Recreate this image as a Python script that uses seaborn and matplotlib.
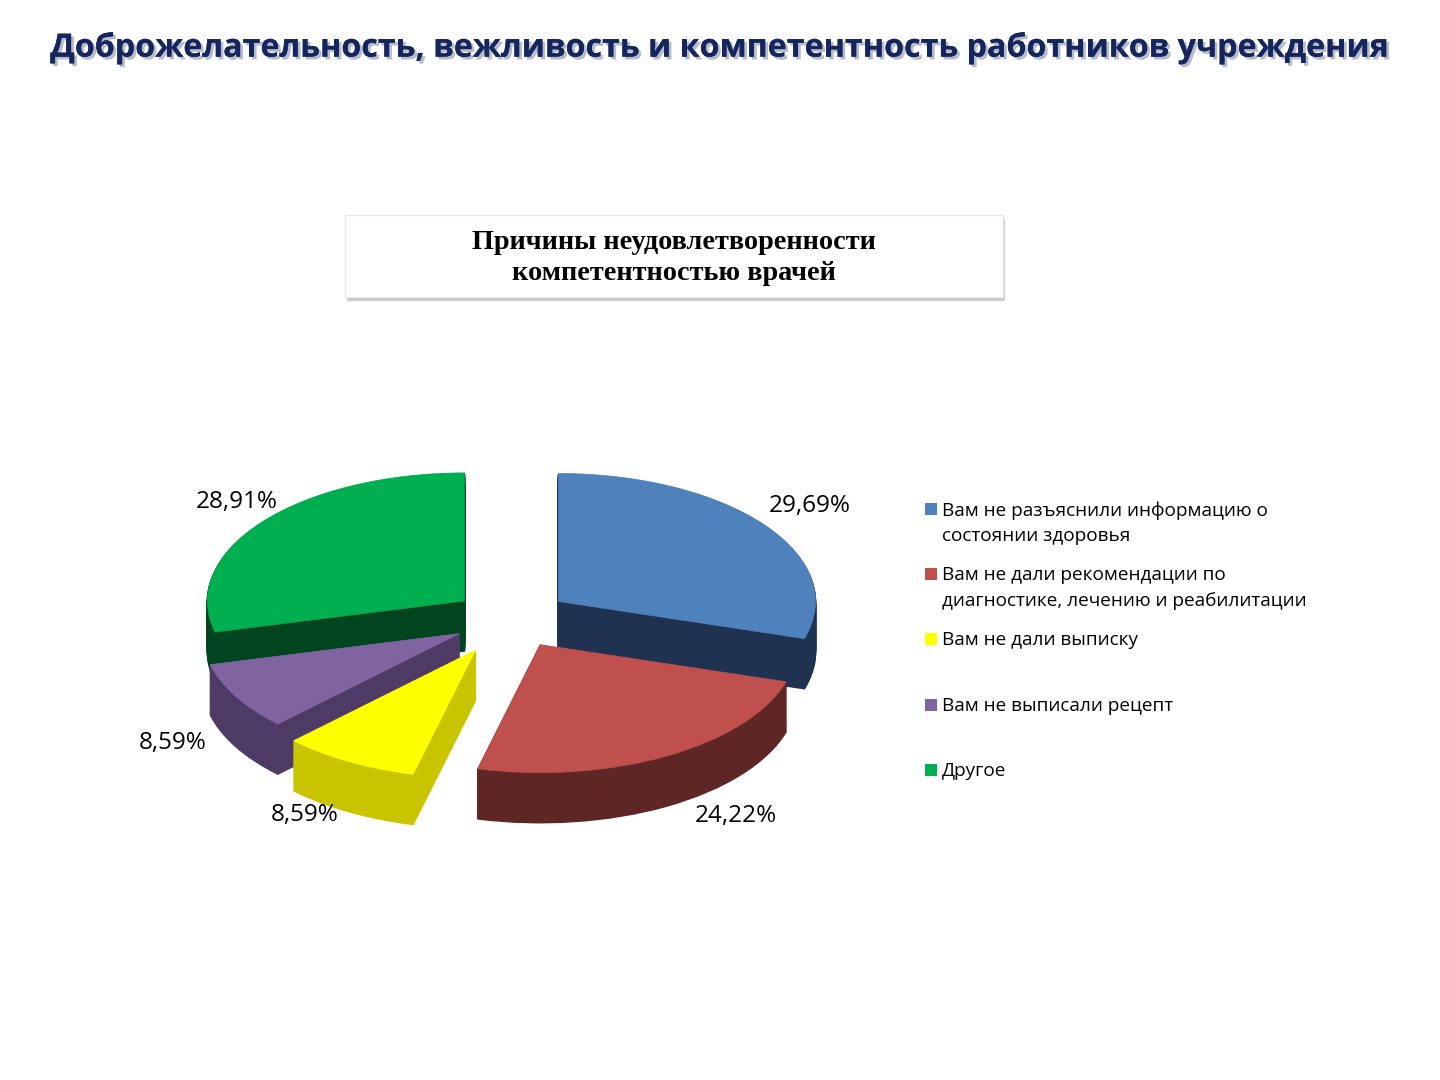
import numpy as np
import matplotlib
matplotlib.use("Agg")
import matplotlib.pyplot as plt
import matplotlib.patheffects as pe
from matplotlib.patches import Rectangle
import seaborn as sns

# data
title = "Доброжелательность, вежливость и компетентность работников учреждения"
subtitle = "Причины неудовлетворенности\nкомпетентностью врачей"
categories = [
    "Вам не разъяснили информацию о\nсостоянии здоровья",
    "Вам не дали рекомендации по\nдиагностике, лечению и реабилитации",
    "Вам не дали выписку",
    "Вам не выписали рецепт",
    "Другое",
]
shares = [29.69, 24.22, 8.59, 8.59, 28.91]
pct_labels = ["29,69%", "24,22%", "8,59%", "8,59%", "28,91%"]

top_colors = ["#4F81BD", "#C0504D", "#FFFF00", "#8064A2", "#00B050"]
side_colors = ["#1F3350", "#5E2624", "#C9C400", "#4D3B66", "#00451F"]
explode = [0.23, 0.23, 0.28, 0.23, 0.23]

W, H = 1440, 1080
CX, CY = 511, 619      # pie centre, px from top-left
RX, RY = 257, 128      # ellipse radii in px
DEPTH_PX = 50


def fx(x):
    return x / W


def fy(y):
    return 1 - y / H


def main():
    sns.set_theme(style="white")
    plt.rcParams["font.family"] = ["Open Sans", "DejaVu Sans"]

    fig = plt.figure(figsize=(14.4, 10.8), dpi=100)
    fig.patch.set_facecolor("white")

    ax = fig.add_axes([0, 0, 1, 1])
    depth = DEPTH_PX / RY
    n_layers = 40

    # side walls: stacked darker pies
    for k in range(n_layers, 0, -1):
        wedges, _ = ax.pie(shares, explode=explode, colors=side_colors,
                           startangle=90, counterclock=False,
                           center=(0, -depth * k / n_layers))
        for w in wedges:
            w.set_edgecolor(w.get_facecolor())
            w.set_linewidth(1.2)

    # top face
    wedges, _ = ax.pie(shares, explode=explode, colors=top_colors,
                       startangle=90, counterclock=False, center=(0, 0))
    for w in wedges:
        w.set_edgecolor(w.get_facecolor())
        w.set_linewidth(0.5)

    # percentage labels
    fr = np.array(shares) / sum(shares)
    ends = 90 - 360 * np.cumsum(fr)
    mids = np.deg2rad(ends + 180 * fr)
    for lab, m in zip(pct_labels, mids):
        c, s = np.cos(m), np.sin(m)
        if s >= 0:
            kx = 1.25 if c > 0 else 1.15
            x, y = kx * c, 1.48 * s
        else:
            kx = 1.45 if c > 0 else 1.36
            x, y = kx * c, 1.5 * s - 0.23
        ax.text(x, y, lab, ha="left" if c > 0 else "right", va="center",
                fontsize=17.5, color="black")

    ax.set_aspect("auto")
    ax.set_xlim(-CX / RX, (W - CX) / RX)
    ax.set_ylim(-(H - CY) / RY, CY / RY)
    ax.axis("off")

    # main title
    fig.text(fx(720), fy(48), title, ha="center", va="center",
             fontsize=23.2, fontweight="bold", color="#15265E",
             path_effects=[pe.withSimplePatchShadow(offset=(2, -2),
                                                   shadow_rgbFace="#8890A8",
                                                   alpha=0.6),
                           pe.Normal()])

    # chart title box with shadow
    bx0, by0, bx1, by1 = 345, 215, 1003, 297
    fig.add_artist(Rectangle((fx(bx0 + 2), fy(by1 + 4)),
                             fx(bx1 - bx0), (by1 - by0) / H,
                             transform=fig.transFigure,
                             facecolor="#B8B8B8", edgecolor="none",
                             alpha=0.7))
    fig.add_artist(Rectangle((fx(bx0), fy(by1)),
                             fx(bx1 - bx0), (by1 - by0) / H,
                             transform=fig.transFigure,
                             facecolor="white", edgecolor="#E6E6E6",
                             linewidth=0.8))
    fig.text(fx(674), fy(258), subtitle, ha="center", va="center",
             fontsize=20.3, fontweight="bold", family="Liberation Serif",
             linespacing=1.35, color="black")

    # legend
    legend_y = [509, 574, 639, 705, 770]
    for lab, col, ly in zip(categories, top_colors, legend_y):
        fig.add_artist(Rectangle((fx(925), fy(ly + 6)), fx(12), 12 / H,
                                 transform=fig.transFigure,
                                 facecolor=col, edgecolor="none"))
        fig.text(fx(942), fy(ly - 8), lab, ha="left", va="top",
                 fontsize=13.7, linespacing=1.55, color="black")

    fig.savefig("out.png", dpi=100, facecolor="white")
    plt.close(fig)


if __name__ == "__main__":
    main()
